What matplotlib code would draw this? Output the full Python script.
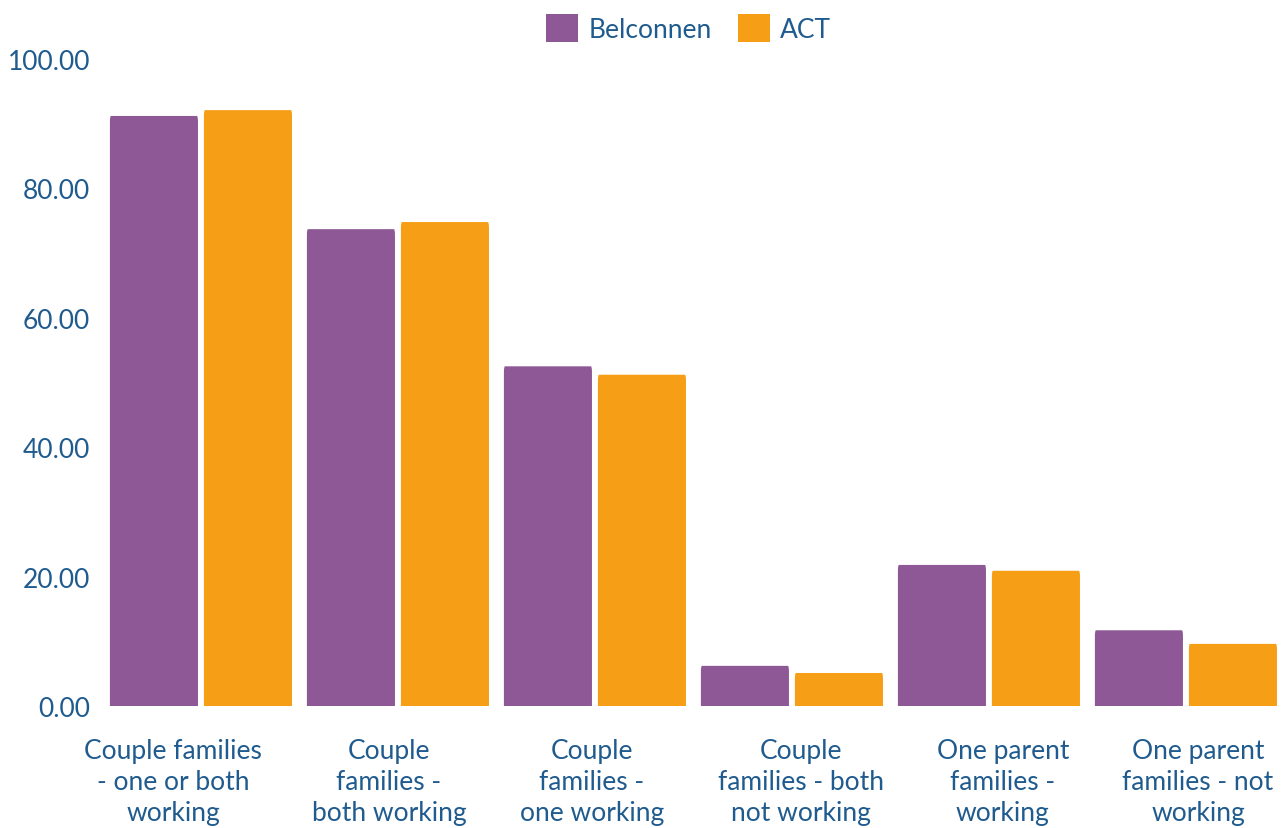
import numpy as np
import matplotlib.pyplot as plt
from matplotlib.patches import FancyBboxPatch, Patch

categories = ["Couple families\n- one or both\nworking",
              "Couple\nfamilies -\nboth working",
              "Couple\nfamilies -\none working",
              "Couple\nfamilies - both\nnot working",
              "One parent\nfamilies -\nworking",
              "One parent\nfamilies - not\nworking"]
belconnen = [91.2, 73.7, 52.5, 6.2, 21.8, 11.7]
act = [92.1, 74.8, 51.2, 5.1, 20.9, 9.6]
series = ["Belconnen", "ACT"]
colors = ["#8e5796", "#f59e16"]
yticks = [0, 20, 40, 60, 80, 100]
# small horizontal nudges for the wrapped category labels
label_shift = [-0.142, -0.046, -0.015, 0.046, 0.071, 0.061]

text_col = "#1f5b8e"
fs = 19
plt.rcParams["font.family"] = ["Lato", "DejaVu Sans"]

fig = plt.figure(figsize=(12.87, 8.29), dpi=100)
ax = fig.add_axes([0.0796, 0.1472, 0.9184, 0.7804])

x = np.arange(len(categories))
bw = 0.447
off = 0.2386

# px per data unit, used to keep the corner radius round
px_x = 0.9184 * 1287
px_y = 0.7804 * 829 / 100
r = 6 / px_x
aspect = (6 / px_y) / r

for vals, col, sign in [(belconnen, colors[0], -1), (act, colors[1], 1)]:
    for xi, v in zip(x, vals):
        p = FancyBboxPatch((xi + sign * off - bw / 2, -5), bw, v + 5,
                           boxstyle=f"round,pad=0,rounding_size={r}",
                           mutation_aspect=aspect, facecolor=col,
                           edgecolor="none", clip_on=True)
        ax.add_patch(p)

ax.set_xlim(-0.5, len(categories) - 0.5)
ax.set_ylim(0, 100)
ax.set_yticks(yticks)
ax.set_yticklabels([f"{t:.2f}" for t in yticks])
ax.set_xticks(x)
ax.set_xticklabels([])
for xi, lab, sh in zip(x, categories, label_shift):
    ax.annotate(lab, xy=(xi + sh, 0), xycoords=("data", "axes fraction"),
                xytext=(0, -23), textcoords="offset points", ha="center",
                va="top", fontsize=fs, color=text_col, linespacing=1.3)
ax.tick_params(axis="both", length=0, labelsize=fs, labelcolor=text_col)
ax.tick_params(axis="y", pad=9)
for s in ax.spines.values():
    s.set_visible(False)

handles = [Patch(facecolor=c, edgecolor="none") for c in colors]
leg = fig.legend(handles, series, loc="upper center", bbox_to_anchor=(0.535, 1.01),
                 ncol=2, frameon=False, fontsize=fs, handlelength=1.2,
                 handleheight=1.2, handletextpad=0.4, columnspacing=1.0)
for t in leg.get_texts():
    t.set_color(text_col)

fig.savefig("out.png", dpi=100)
